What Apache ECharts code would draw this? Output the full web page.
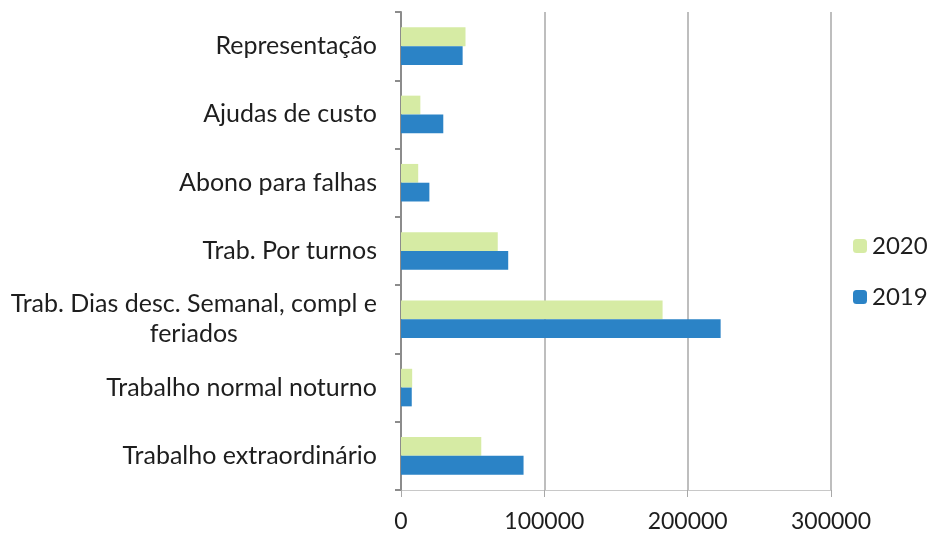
<!DOCTYPE html>
<html>
<head>
<meta charset="utf-8">
<script src="https://cdn.jsdelivr.net/npm/echarts@6/dist/echarts.min.js"></script>
<style>
html, body { margin: 0; padding: 0; background: #fff; }
#chart { width: 932px; height: 538px; }
</style>
</head>
<body>
<div id="chart"></div>
<script>
var categories = [
	'Representação',
	'Ajudas de custo',
	'Abono para falhas',
	'Trab. Por turnos',
	'Trab. Dias desc. Semanal, compl e\nferiados',
	'Trabalho normal noturno',
	'Trabalho extraordinário'
];
var values2020 = [45000, 13500, 12000, 67500, 182500, 7800, 56000];
var values2019 = [43000, 29500, 19800, 74800, 223000, 7500, 85500];
var xTicks = [0, 100000, 200000, 300000];

var myChart = echarts.init(document.getElementById('chart'));
var option = {
	animation: false,
	textStyle: { fontFamily: 'Lato' },
	grid: {
		left: 401,
		right: 101,
		top: 12,
		bottom: 48
	},
	legend: {
		orient: 'vertical',
		left: 848,
		top: 229,
		itemWidth: 14,
		itemHeight: 14,
		itemGap: 27,
		data: ['2020', '2019'],
		textStyle: { fontSize: 24, lineHeight: 24, color: '#1e1e1e', fontFamily: 'Lato' }
	},
	xAxis: {
		type: 'value',
		min: xTicks[0],
		max: xTicks[xTicks.length - 1],
		interval: 100000,
		axisLine: { show: true, lineStyle: { color: '#c8c8c8', width: 1 } },
		axisTick: { show: true, length: 7, lineStyle: { color: '#a8a8a8' } },
		splitLine: { show: true, lineStyle: { color: '#a8a8a8', width: 1.5 } },
		axisLabel: {
			fontSize: 23,
			color: '#1e1e1e',
			margin: 20,
			fontFamily: 'Lato',
			formatter: function (v) { return String(v); }
		}
	},
	yAxis: {
		type: 'category',
		inverse: true,
		data: categories,
		axisLine: { show: true, lineStyle: { color: '#8c8c8c', width: 2 } },
		axisTick: { show: true, length: 6, lineStyle: { color: '#8c8c8c', width: 2 } },
		axisLabel: {
			fontSize: 25,
			color: '#1e1e1e',
			margin: 24,
			lineHeight: 30,
			fontFamily: 'Lato',
			formatter: function (v) {
				if (v.indexOf('\n') >= 0) {
					return v.split('\n').map(function (s) { return '{c|' + s + '}'; }).join('\n');
				}
				return v;
			},
			rich: {
				c: { align: 'center', fontSize: 25, lineHeight: 30, color: '#1e1e1e', fontFamily: 'Lato' }
			}
		}
	},
	series: [{
		name: '2020',
		type: 'bar',
		data: values2020,
		barGap: '0%',
		barCategoryGap: '45%',
		itemStyle: { color: '#d6eba4' }
	}, {
		name: '2019',
		type: 'bar',
		data: values2019,
		barGap: '0%',
		barCategoryGap: '45%',
		itemStyle: { color: '#2b83c6' }
	}]
};
myChart.setOption(option);
</script>
</body>
</html>
